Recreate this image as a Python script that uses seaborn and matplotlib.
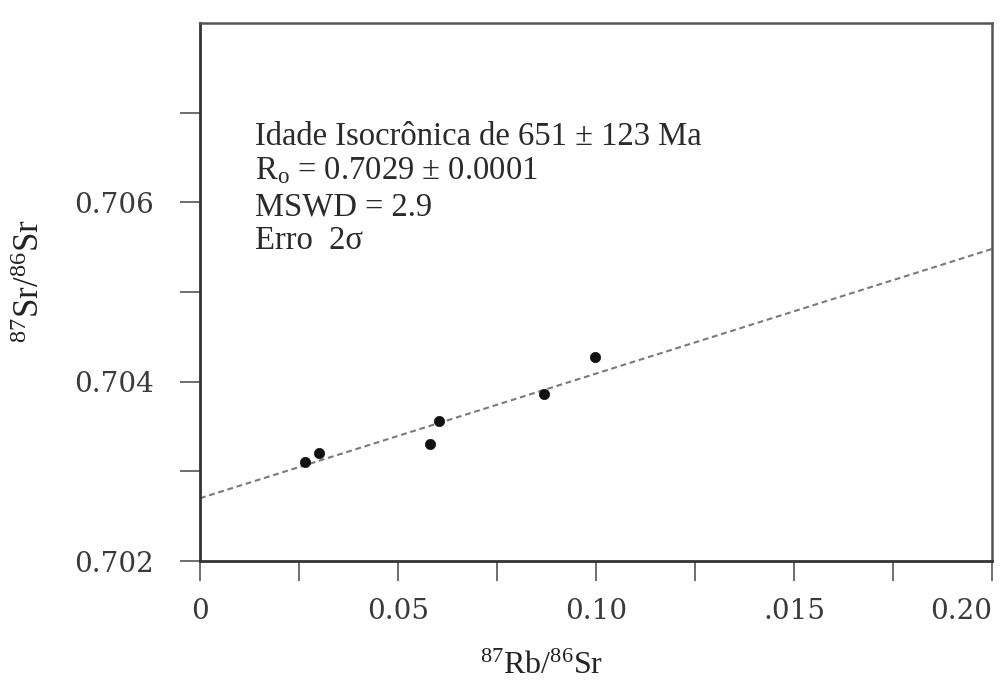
import matplotlib
matplotlib.use("Agg")
import matplotlib.pyplot as plt
import seaborn as sns
import pandas as pd

# Rb-Sr whole-rock isochron data
rb_sr = [0.0266, 0.0301, 0.0580, 0.0603, 0.0868, 0.0997]
sr_sr = [0.70310, 0.70321, 0.70331, 0.70356, 0.70386, 0.70427]

# fitted isochron (end points of the regression line)
line_x = [0.0, 0.20]
line_y = [0.70270, 0.70548]

x_ticks = [0.0, 0.025, 0.05, 0.075, 0.10, 0.125, 0.15, 0.175, 0.20]
x_tick_labels = ["0", "", "0.05", "", "0.10", "", ".015", "", "0.20"]
y_ticks = [0.702, 0.703, 0.704, 0.705, 0.706, 0.707]
y_tick_labels = ["0.702", "", "0.704", "", "0.706", ""]

info_lines = [
    "Idade Isocrônica de 651 ± 123 Ma",
    r"R$_{\mathrm{o}}$ = 0.7029 ± 0.0001",
    "MSWD = 2.9",
    "Erro  2σ",
]

sns.set_style("white")
plt.rcParams["font.family"] = ["Liberation Serif", "DejaVu Serif"]
plt.rcParams["mathtext.fontset"] = "custom"
plt.rcParams["mathtext.rm"] = "Liberation Serif"
plt.rcParams["mathtext.it"] = "Liberation Serif:italic"

fig = plt.figure(figsize=(10.06, 6.88), dpi=100)
ax = fig.add_axes([200 / 1006, 1 - 561 / 688, 792 / 1006, 538 / 688])

pts = pd.DataFrame({"x": rb_sr, "y": sr_sr})
fit = pd.DataFrame({"x": line_x, "y": line_y})

sns.lineplot(data=fit, x="x", y="y", ax=ax, color="#7a7a7a", linewidth=1.5,
             dashes=False, linestyle=(0, (2.8, 1.8)))
sns.scatterplot(data=pts, x="x", y="y", ax=ax, color="#111111", s=55,
                edgecolor="#111111", linewidth=0.5, zorder=3)

ax.set_xlim(0.0, 0.20)
ax.set_ylim(0.702, 0.708)
ax.set_xticks(x_ticks)
ax.set_xticklabels(x_tick_labels)
ax.set_yticks(y_ticks)
ax.set_yticklabels(y_tick_labels)
ax.tick_params(axis="both", direction="out", length=14.5, width=1.2,
               color="#555555", labelsize=20, labelcolor="#3a3a3a",
               labelfontfamily="DejaVu Serif", bottom=True, left=True)
ax.tick_params(axis="x", pad=12)
ax.tick_params(axis="y", pad=19)
for lbl in ax.xaxis.get_majorticklabels()[-1:]:
    lbl.set_ha("right")

for side in ["left", "bottom"]:
    ax.spines[side].set_color("#333333")
    ax.spines[side].set_linewidth(2.0)
for side in ["top", "right"]:
    ax.spines[side].set_color("#555555")
    ax.spines[side].set_linewidth(1.8)

ax.set_xlabel(r"$^{87}$Rb/$^{86}$Sr", fontsize=23, color="#222222")
ax.set_ylabel(r"$^{87}$Sr/$^{86}$Sr", fontsize=25, color="#222222")
ax.xaxis.set_label_coords((542 - 200) / 792, -(652 - 561) / 538)
ax.yaxis.set_label_coords(-(200 - 47) / 792, (561 - 281) / 538)

line_y_px = [137, 171, 207, 241]
for text, ypx in zip(info_lines, line_y_px):
    fig.text(255 / 1006, 1 - ypx / 688, text, fontsize=23.5, color="#2a2a2a",
             va="center", ha="left")

fig.savefig("out.png", dpi=100)
